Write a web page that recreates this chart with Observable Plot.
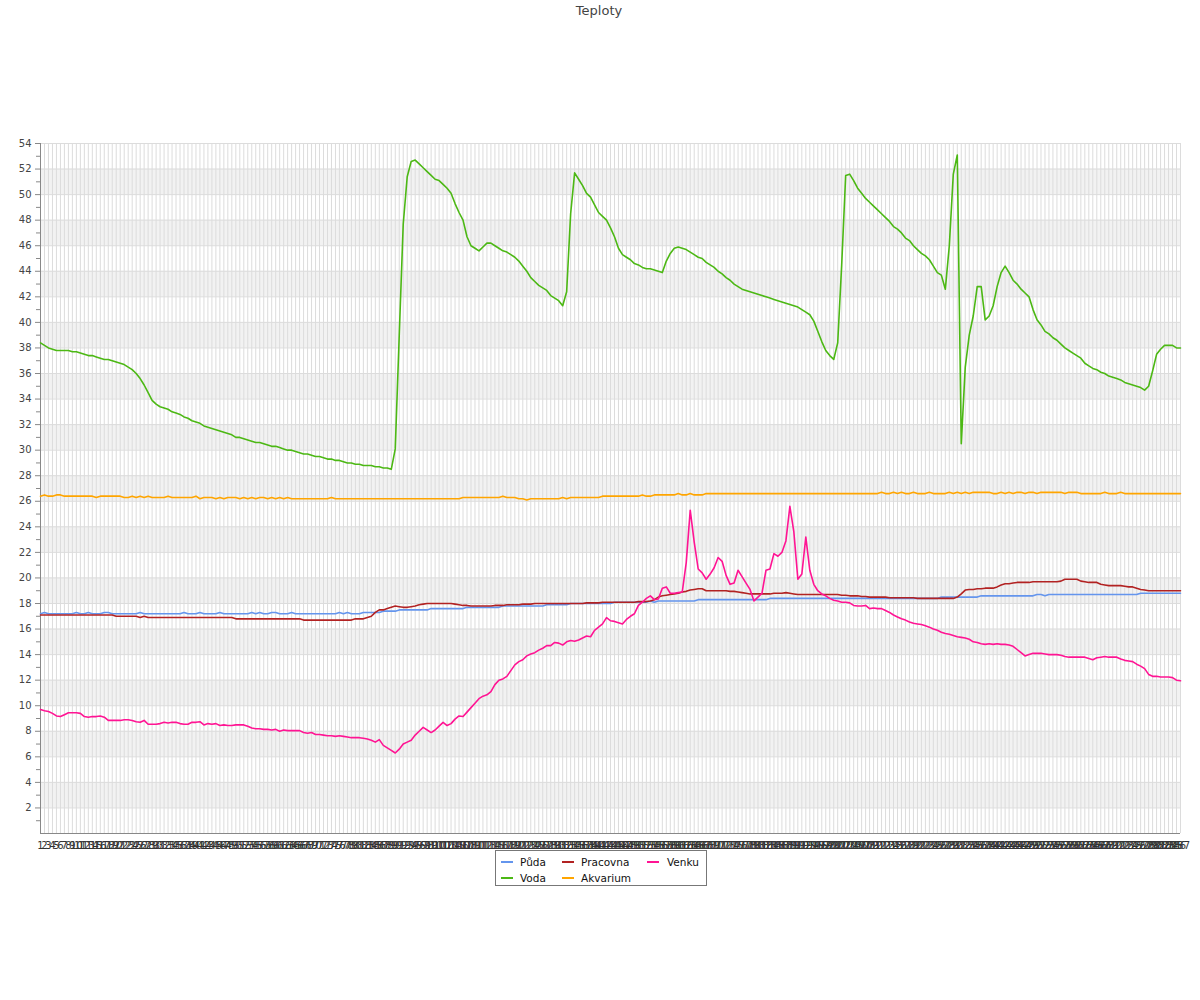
<!DOCTYPE html>
<html>
<head>
<meta charset="utf-8">
<script src="https://cdn.jsdelivr.net/npm/d3@7"></script>
<script src="https://cdn.jsdelivr.net/npm/@observablehq/plot@0.6"></script>
<style>
  html, body { margin: 0; padding: 0; background: #fff; }
  #wrap { position: relative; width: 1200px; height: 1000px; font-family: "DejaVu Sans", sans-serif; }
  #title { position: absolute; left: 0; top: 3px; width: 1198px; text-align: center; font-size: 13px; color: #444; }
  #chart { position: absolute; left: 0; top: 0; }
  #legend { position: absolute; left: 495px; top: 850px; width: 210px; height: 34px; border: 1px solid #777; background: #fff; font-size: 10.5px; color: #111; }
  .sw { position: absolute; width: 12px; height: 2px; }
  .lt { position: absolute; line-height: 12px; }
</style>
</head>
<body>
<div id="wrap">
  <div id="chart"></div>
  <div id="title">Teploty</div>
  <div id="legend"></div>
</div>
<script>
// ---- data ----
const title = "Teploty";
const seriesNames = ["Půda", "Voda", "Pracovna", "Akvarium", "Venku"];
const yTicks = [2,4,6,8,10,12,14,16,18,20,22,24,26,28,30,32,34,36,38,40,42,44,46,48,50,52,54];
const categories = d3.range(1, 288); // sample numbers 1..287 shown on the x axis

const puda = [
17.2,17.3,17.2,17.2,17.2,17.2,17.2,17.2,17.2,17.3,
17.2,17.2,17.3,17.2,17.2,17.2,17.3,17.3,17.2,17.2,
17.2,17.2,17.2,17.2,17.2,17.3,17.2,17.2,17.2,17.2,
17.2,17.2,17.2,17.2,17.2,17.2,17.3,17.2,17.2,17.2,
17.3,17.2,17.2,17.2,17.2,17.3,17.2,17.2,17.2,17.2,
17.2,17.2,17.2,17.3,17.2,17.3,17.2,17.2,17.3,17.3,
17.2,17.2,17.2,17.3,17.2,17.2,17.2,17.2,17.2,17.2,
17.2,17.2,17.2,17.2,17.2,17.3,17.2,17.3,17.2,17.2,
17.2,17.3,17.3,17.3,17.3,17.3,17.4,17.4,17.4,17.4,
17.5,17.5,17.5,17.5,17.5,17.5,17.5,17.5,17.6,17.6,
17.6,17.6,17.6,17.6,17.6,17.6,17.6,17.7,17.7,17.7,
17.7,17.7,17.7,17.7,17.7,17.7,17.8,17.8,17.8,17.8,
17.8,17.8,17.8,17.8,17.8,17.8,17.8,17.9,17.9,17.9,
17.9,17.9,17.9,18.0,18.0,18.0,18.0,18.0,18.0,18.0,
18.0,18.0,18.0,18.0,18.1,18.1,18.1,18.1,18.1,18.1,
18.1,18.1,18.1,18.2,18.1,18.2,18.2,18.2,18.2,18.2,
18.2,18.2,18.2,18.2,18.2,18.3,18.3,18.3,18.3,18.3,
18.3,18.3,18.3,18.3,18.3,18.3,18.3,18.3,18.3,18.3,
18.3,18.3,18.3,18.4,18.4,18.4,18.4,18.4,18.4,18.4,
18.4,18.4,18.4,18.4,18.4,18.4,18.4,18.4,18.4,18.4,
18.4,18.4,18.4,18.4,18.4,18.4,18.4,18.4,18.4,18.4,
18.4,18.4,18.4,18.4,18.4,18.4,18.4,18.4,18.4,18.4,
18.4,18.4,18.4,18.4,18.4,18.4,18.5,18.5,18.5,18.5,
18.5,18.5,18.5,18.5,18.5,18.5,18.6,18.6,18.6,18.6,
18.6,18.6,18.6,18.6,18.6,18.6,18.6,18.6,18.6,18.6,
18.7,18.7,18.6,18.7,18.7,18.7,18.7,18.7,18.7,18.7,
18.7,18.7,18.7,18.7,18.7,18.7,18.7,18.7,18.7,18.7,
18.7,18.7,18.7,18.7,18.7,18.7,18.8,18.8,18.8,18.8,
18.8,18.8,18.8,18.8,18.8,18.8,18.8];

const voda = [
38.4,38.2,38.0,37.9,37.8,37.8,37.8,37.8,37.7,37.7,
37.6,37.5,37.4,37.4,37.3,37.2,37.1,37.1,37.0,36.9,
36.8,36.7,36.5,36.3,36.0,35.6,35.1,34.5,33.9,33.6,
33.4,33.3,33.2,33.0,32.9,32.8,32.6,32.5,32.3,32.2,
32.1,31.9,31.8,31.7,31.6,31.5,31.4,31.3,31.2,31.0,
31.0,30.9,30.8,30.7,30.6,30.6,30.5,30.4,30.3,30.3,
30.2,30.1,30.0,30.0,29.9,29.8,29.7,29.7,29.6,29.5,
29.5,29.4,29.3,29.3,29.2,29.2,29.1,29.0,29.0,28.9,
28.9,28.8,28.8,28.8,28.7,28.7,28.6,28.6,28.5,30.1,
39.0,47.7,51.4,52.6,52.7,52.4,52.1,51.8,51.5,51.2,
51.1,50.8,50.5,50.1,49.3,48.6,48.0,46.7,46.0,45.8,
45.6,45.9,46.2,46.2,46.0,45.8,45.6,45.5,45.3,45.1,
44.8,44.4,44.0,43.5,43.2,42.9,42.7,42.5,42.1,41.9,
41.7,41.3,42.4,48.5,51.7,51.2,50.7,50.1,49.8,49.2,
48.6,48.3,48.0,47.4,46.7,45.8,45.3,45.1,44.9,44.6,
44.5,44.3,44.2,44.2,44.1,44.0,43.9,44.8,45.4,45.8,
45.9,45.8,45.7,45.5,45.3,45.1,45.0,44.7,44.5,44.3,
44.0,43.8,43.5,43.3,43.0,42.8,42.6,42.5,42.4,42.3,
42.2,42.1,42.0,41.9,41.8,41.7,41.6,41.5,41.4,41.3,
41.2,41.0,40.8,40.6,40.1,39.3,38.5,37.8,37.4,37.1,
38.4,44.5,51.5,51.6,51.1,50.5,50.1,49.7,49.4,49.1,
48.8,48.5,48.2,47.9,47.5,47.3,47.0,46.6,46.4,46.0,
45.7,45.4,45.2,44.9,44.4,43.9,43.7,42.6,46.0,51.6,
53.1,30.5,36.5,39.0,40.5,42.8,42.8,40.2,40.5,41.3,
42.8,43.9,44.4,43.9,43.3,43.0,42.6,42.3,42.0,41.0,
40.2,39.8,39.3,39.1,38.8,38.6,38.3,38.0,37.8,37.6,
37.4,37.2,36.8,36.6,36.4,36.3,36.1,36.0,35.8,35.7,
35.6,35.5,35.3,35.2,35.1,35.0,34.9,34.7,35.0,36.2,
37.5,37.9,38.2,38.2,38.2,38.0,38.0];

const pracovna = [
17.1,17.1,17.1,17.1,17.1,17.1,17.1,17.1,17.1,17.1,
17.1,17.1,17.1,17.1,17.1,17.1,17.1,17.1,17.1,17.0,
17.0,17.0,17.0,17.0,17.0,16.9,17.0,16.9,16.9,16.9,
16.9,16.9,16.9,16.9,16.9,16.9,16.9,16.9,16.9,16.9,
16.9,16.9,16.9,16.9,16.9,16.9,16.9,16.9,16.9,16.8,
16.8,16.8,16.8,16.8,16.8,16.8,16.8,16.8,16.8,16.8,
16.8,16.8,16.8,16.8,16.8,16.8,16.7,16.7,16.7,16.7,
16.7,16.7,16.7,16.7,16.7,16.7,16.7,16.7,16.7,16.8,
16.8,16.8,16.9,17.0,17.3,17.5,17.5,17.6,17.7,17.8,
17.75,17.7,17.7,17.75,17.8,17.9,17.95,18.0,18.0,18.0,
18.0,18.0,18.0,18.0,17.95,17.9,17.85,17.85,17.8,17.8,
17.8,17.8,17.8,17.8,17.85,17.85,17.85,17.9,17.9,17.9,
17.9,17.95,17.95,17.95,18.0,18.0,18.0,18.0,18.0,18.0,
18.0,18.0,18.0,18.0,18.0,18.0,18.0,18.05,18.05,18.05,
18.05,18.1,18.1,18.1,18.1,18.1,18.1,18.1,18.1,18.1,
18.15,18.15,18.15,18.2,18.3,18.5,18.6,18.65,18.7,18.75,
18.8,18.9,18.95,19.05,19.1,19.15,19.15,19.0,19.0,19.0,
19.0,19.0,19.0,18.95,18.95,18.9,18.85,18.8,18.75,18.75,
18.75,18.75,18.75,18.75,18.8,18.8,18.8,18.85,18.8,18.75,
18.7,18.7,18.7,18.7,18.7,18.7,18.7,18.7,18.7,18.7,
18.7,18.65,18.65,18.6,18.6,18.6,18.55,18.55,18.5,18.5,
18.5,18.5,18.5,18.45,18.45,18.45,18.45,18.45,18.45,18.45,
18.4,18.4,18.4,18.4,18.4,18.4,18.4,18.4,18.4,18.4,
18.5,18.75,19.05,19.1,19.1,19.15,19.15,19.2,19.2,19.2,
19.3,19.45,19.55,19.55,19.6,19.65,19.65,19.65,19.65,19.7,
19.7,19.7,19.7,19.7,19.7,19.7,19.75,19.9,19.9,19.9,
19.9,19.75,19.7,19.65,19.65,19.65,19.5,19.45,19.4,19.4,
19.4,19.4,19.35,19.3,19.3,19.2,19.1,19.05,19.0,19.0,
19.0,19.0,19.0,19.0,19.0,19.0,19.0];

const akvarium = [
26.4,26.5,26.4,26.4,26.5,26.5,26.4,26.4,26.4,26.4,
26.4,26.4,26.4,26.4,26.3,26.4,26.4,26.4,26.4,26.4,
26.4,26.3,26.3,26.4,26.3,26.4,26.3,26.4,26.3,26.3,
26.3,26.3,26.4,26.3,26.3,26.3,26.3,26.3,26.3,26.4,
26.2,26.3,26.3,26.3,26.2,26.3,26.2,26.3,26.3,26.3,
26.2,26.3,26.2,26.3,26.2,26.3,26.3,26.2,26.3,26.2,
26.3,26.2,26.3,26.2,26.2,26.2,26.2,26.2,26.2,26.2,
26.2,26.2,26.2,26.3,26.2,26.2,26.2,26.2,26.2,26.2,
26.2,26.2,26.2,26.2,26.2,26.2,26.2,26.2,26.2,26.2,
26.2,26.2,26.2,26.2,26.2,26.2,26.2,26.2,26.2,26.2,
26.2,26.2,26.2,26.2,26.2,26.2,26.3,26.3,26.3,26.3,
26.3,26.3,26.3,26.3,26.3,26.3,26.4,26.3,26.3,26.3,
26.2,26.2,26.1,26.2,26.2,26.2,26.2,26.2,26.2,26.2,
26.2,26.3,26.2,26.3,26.3,26.3,26.3,26.3,26.3,26.3,
26.3,26.4,26.4,26.4,26.4,26.4,26.4,26.4,26.4,26.4,
26.4,26.5,26.4,26.4,26.5,26.5,26.5,26.5,26.5,26.5,
26.6,26.5,26.5,26.6,26.5,26.5,26.5,26.6,26.6,26.6,
26.6,26.6,26.6,26.6,26.6,26.6,26.6,26.6,26.6,26.6,
26.6,26.6,26.6,26.6,26.6,26.6,26.6,26.6,26.6,26.6,
26.6,26.6,26.6,26.6,26.6,26.6,26.6,26.6,26.6,26.6,
26.6,26.6,26.6,26.6,26.6,26.6,26.6,26.6,26.6,26.6,
26.6,26.7,26.6,26.6,26.7,26.6,26.7,26.6,26.6,26.7,
26.6,26.6,26.6,26.7,26.6,26.6,26.6,26.6,26.7,26.6,
26.7,26.6,26.7,26.6,26.7,26.7,26.7,26.7,26.7,26.6,
26.6,26.7,26.6,26.7,26.6,26.7,26.7,26.6,26.7,26.7,
26.6,26.7,26.7,26.7,26.7,26.7,26.7,26.6,26.7,26.7,
26.7,26.6,26.6,26.6,26.6,26.6,26.6,26.7,26.6,26.6,
26.6,26.7,26.6,26.6,26.6,26.6,26.6,26.6,26.6,26.6,
26.6,26.6,26.6,26.6,26.6,26.6,26.6];

const venku = [
9.7,9.6,9.55,9.4,9.2,9.15,9.3,9.45,9.45,9.45,
9.4,9.15,9.1,9.15,9.15,9.2,9.1,8.85,8.85,8.85,
8.85,8.9,8.9,8.85,8.75,8.7,8.85,8.55,8.55,8.55,
8.6,8.7,8.65,8.7,8.7,8.6,8.55,8.55,8.7,8.7,
8.75,8.5,8.6,8.55,8.6,8.45,8.5,8.45,8.45,8.5,
8.5,8.5,8.4,8.25,8.2,8.2,8.15,8.15,8.1,8.15,
8.0,8.1,8.05,8.05,8.05,8.05,7.9,7.85,7.9,7.75,
7.75,7.7,7.65,7.65,7.6,7.65,7.6,7.55,7.5,7.5,
7.5,7.45,7.4,7.3,7.15,7.35,6.9,6.7,6.5,6.3,
6.6,7.0,7.15,7.3,7.7,8.0,8.3,8.1,7.9,8.1,
8.4,8.7,8.45,8.6,8.95,9.2,9.15,9.5,9.85,10.2,
10.55,10.75,10.85,11.1,11.65,12.0,12.1,12.3,12.75,13.2,
13.45,13.6,13.9,14.05,14.15,14.35,14.5,14.7,14.7,14.95,
14.9,14.75,15.0,15.1,15.05,15.15,15.3,15.45,15.4,15.9,
16.15,16.4,16.9,16.65,16.6,16.5,16.4,16.75,17.0,17.2,
17.85,18.1,18.4,18.6,18.3,18.35,19.2,19.3,18.8,18.8,
18.85,18.9,21.2,25.3,22.8,20.7,20.4,19.9,20.3,20.8,
21.6,21.3,20.2,19.5,19.6,20.6,20.1,19.6,19.1,18.2,
18.5,18.8,20.6,20.7,21.9,21.7,22.0,22.9,25.6,23.6,
19.9,20.3,23.2,20.6,19.5,19.0,18.75,18.6,18.4,18.25,
18.2,18.1,18.1,18.05,17.85,17.8,17.8,17.85,17.6,17.65,
17.6,17.6,17.45,17.3,17.1,16.95,16.8,16.7,16.55,16.45,
16.4,16.35,16.25,16.15,16.0,15.9,15.75,15.65,15.6,15.5,
15.4,15.35,15.3,15.2,15.0,14.95,14.85,14.8,14.85,14.8,
14.85,14.8,14.8,14.75,14.65,14.4,14.15,13.9,14.0,14.1,
14.1,14.1,14.05,14.0,14.0,14.0,13.95,13.85,13.8,13.8,
13.8,13.8,13.8,13.7,13.6,13.75,13.8,13.85,13.8,13.8,
13.8,13.65,13.55,13.5,13.45,13.25,13.1,12.9,12.45,12.3,
12.3,12.25,12.25,12.25,12.2,12.0,11.95];

// ---- styling (kept separate from data) ----
const seriesColors = ["#6495ed", "#4cb814", "#b22222", "#ffa500", "#ff1493"];
const seriesValues = [puda, voda, pracovna, akvarium, venku];

const rowsFor = (vals, name) => vals.map((v, k) => ({i: categories[k], v, s: name}));
const bandStarts = yTicks.filter(t => t % 4 === 2 && t < 54);

document.getElementById("title").textContent = title;

const lineMarks = seriesNames.map((name, k) =>
  Plot.line(rowsFor(seriesValues[k], name), {x: "i", y: "v", stroke: seriesColors[k], strokeWidth: 1.6, curve: "linear"})
);

const chart = Plot.plot({
  width: 1200,
  height: 850,
  marginTop: 143,
  marginBottom: 17,
  marginLeft: 40,
  marginRight: 20,
  x: {type: "linear", domain: [categories[0], categories[categories.length - 1]]},
  y: {domain: [0, 54]},
  style: {fontFamily: "DejaVu Sans", fontSize: "10px", background: "white", color: "#444"},
  marks: [
    Plot.rect(bandStarts, {x1: () => categories[0], x2: () => categories[categories.length - 1], y1: d => d, y2: d => d + 2, fill: "#f2f2f2"}),
    Plot.ruleX(categories.slice(1), {stroke: "#dcdcdc", strokeWidth: 1}),
    Plot.ruleY(yTicks, {stroke: "#dcdcdc", strokeWidth: 1}),
    Plot.ruleX([categories[0]], {stroke: "#888"}),
    Plot.ruleY([0], {stroke: "#888"}),
    Plot.axisY({ticks: yTicks, tickSize: 5, tickPadding: 4, stroke: "#888", fill: "#444", label: null}),
    Plot.axisY({ticks: yTicks.map(t => t - 1), tickSize: 4, tickFormat: () => "", stroke: "#888", label: null}),
    Plot.axisX({ticks: categories, tickSize: 0, tickPadding: 8, tickFormat: d => String(d), fill: "#333", label: null}),
    ...lineMarks
  ]
});
document.getElementById("chart").appendChild(chart);

// ---- legend (HTML, below the SVG plot area) ----
const legend = document.getElementById("legend");
const legendPos = [
  {sx: 5, tx: 24, y: 10},   // Půda
  {sx: 5, tx: 24, y: 26},   // Voda
  {sx: 66, tx: 85, y: 10},  // Pracovna
  {sx: 66, tx: 85, y: 26},  // Akvarium
  {sx: 151, tx: 171, y: 10} // Venku
];
seriesNames.forEach((name, k) => {
  const p = legendPos[k];
  const sw = document.createElement("div");
  sw.className = "sw";
  sw.style.left = p.sx + "px";
  sw.style.top = (p.y) + "px";
  sw.style.background = seriesColors[k];
  legend.appendChild(sw);
  const t = document.createElement("div");
  t.className = "lt";
  t.style.left = p.tx + "px";
  t.style.top = (p.y - 5) + "px";
  t.textContent = name;
  legend.appendChild(t);
});
</script>
</body>
</html>
